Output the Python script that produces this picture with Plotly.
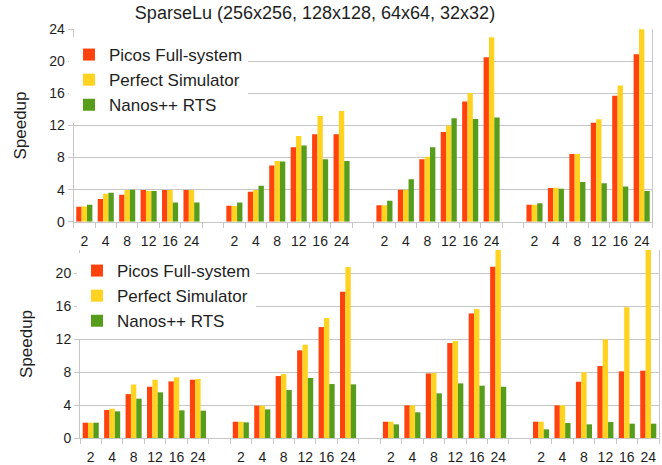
import plotly.graph_objects as go

W, H = 662, 465
threads = ["2", "4", "8", "12", "16", "24"]
n_groups = 4
series_names = ["Picos Full-system", "Perfect Simulator", "Nanos++ RTS"]
title_text = "SparseLu (256x256, 128x128, 64x64, 32x32)"

# top chart values (4 groups x 6 thread counts)
top_picos = [1.87, 2.83, 3.37, 3.95, 3.95, 3.95,
             2.0, 3.75, 7.0, 9.28, 10.9, 10.9,
             2.04, 4.0, 7.8, 11.2, 15.0, 20.5,
             2.1, 4.2, 8.45, 12.35, 15.7, 20.9]
top_perfect = [1.9, 3.5, 3.95, 3.87, 3.95, 3.95,
               1.95, 3.95, 7.57, 10.7, 13.2, 13.8,
               2.04, 4.0, 8.1, 12.0, 16.05, 23.0,
               2.1, 4.25, 8.45, 12.77, 17.0, 24.3]
top_nanos = [2.1, 3.6, 4.0, 3.83, 2.4, 2.4,
             2.4, 4.5, 7.5, 9.5, 7.8, 7.57,
             2.6, 5.3, 9.3, 12.9, 12.8, 13.0,
             2.3, 4.1, 4.95, 4.8, 4.4, 3.83]

# bottom chart values
bot_picos = [1.86, 3.4, 5.34, 6.23, 6.88, 7.08,
             1.98, 3.93, 7.53, 10.65, 13.48, 17.77,
             1.98, 3.97, 7.85, 11.54, 15.14, 20.8,
             1.98, 3.97, 6.84, 8.74, 8.1, 8.18]
bot_perfect = [1.86, 3.56, 6.5, 7.08, 7.37, 7.17,
               1.98, 3.93, 7.77, 11.34, 14.57, 20.77,
               1.98, 3.97, 7.9, 11.78, 15.67, 22.9,
               1.98, 3.97, 7.98, 11.98, 15.9, 22.9]
bot_nanos = [1.86, 3.24, 4.78, 5.55, 3.36, 3.32,
             1.9, 3.48, 5.83, 7.29, 6.56, 6.52,
             1.66, 3.12, 5.43, 6.64, 6.36, 6.23,
             1.05, 1.82, 1.66, 1.94, 1.74, 1.74]

colors = ["#ff420e", "#ffd320", "#579d1c"]
FONT = "Liberation Sans, Arial, sans-serif"
GRID = "#c6c6c6"
TXT = "#1e1e1e"

slot = len(threads) + 1
xpos = [g * slot + i for g in range(n_groups) for i in range(len(threads))]
ticktext = [t for g in range(n_groups) for t in threads]
xmax = n_groups * slot - 1 - 0.5

fig = go.Figure()
for vals, name, col in zip([top_picos, top_perfect, top_nanos], series_names, colors):
    fig.add_trace(go.Bar(x=xpos, y=vals, name=name, marker_color=col, marker_line_width=0,
                         xaxis="x", yaxis="y", legend="legend", hoverinfo="skip"))
for vals, name, col in zip([bot_picos, bot_perfect, bot_nanos], series_names, colors):
    fig.add_trace(go.Bar(x=xpos, y=vals, name=name, marker_color=col, marker_line_width=0,
                         xaxis="x2", yaxis="y2", legend="legend2", hoverinfo="skip"))

def xaxis_cfg(domain, anchor):
    return dict(domain=domain, anchor=anchor, range=[-0.5, xmax], automargin=False,
                tickmode="array", tickvals=xpos, ticktext=ticktext, ticks="",
                showgrid=False, zeroline=False, showline=True, linecolor=GRID, linewidth=1,
                tickfont=dict(family=FONT, size=14, color=TXT), ticklabelstandoff=6,
                minor=dict(tick0=-0.5, dtick=1, ticks="outside", ticklen=5,
                           tickcolor=GRID, showgrid=False))

def yaxis_cfg(domain, anchor, rng):
    return dict(domain=domain, anchor=anchor, range=rng, tickmode="linear", tick0=0, dtick=4,
                automargin=False,
                showgrid=True, gridcolor=GRID, gridwidth=1, zeroline=False,
                showline=True, linecolor=GRID, linewidth=1, mirror=True,
                ticks="outside", ticklen=5, tickcolor=GRID,
                tickfont=dict(family=FONT, size=14, color=TXT),
                title=dict(text="Speedup", font=dict(family=FONT, size=17, color=TXT), standoff=18))

fig.update_layout(
    width=W, height=H,
    margin=dict(l=0, r=0, t=0, b=0, pad=0),
    paper_bgcolor="white", plot_bgcolor="white",
    barmode="group", bargap=0.25, bargroupgap=0,
    title=dict(text=title_text, x=315 / W, xanchor="center", xref="paper",
               y=1 - 13 / H, yanchor="middle", yref="container", automargin=False,
               font=dict(family=FONT, size=18, color=TXT)),
    xaxis=xaxis_cfg([73.6 / W, 652.4 / W], "y"),
    yaxis=yaxis_cfg([(H - 221.7) / H, (H - 29.3) / H], "x", [0, 24]),
    xaxis2=xaxis_cfg([80 / W, 659 / W], "y2"),
    yaxis2=yaxis_cfg([(H - 438) / H, (H - 250) / H], "x2", [0, 22.85]),
    legend=dict(x=69 / W, y=1 - 37 / H, xanchor="left", yanchor="top", bgcolor="white",
                font=dict(family=FONT, size=17, color=TXT), tracegroupgap=0),
    legend2=dict(x=77 / W, y=1 - 253 / H, xanchor="left", yanchor="top", bgcolor="white",
                 font=dict(family=FONT, size=17, color=TXT), tracegroupgap=0),
)

fig.write_html("out.html", config={"displayModeBar": False},
               post_script="document.body.style.margin='0';document.body.style.overflow='hidden';"
                           "document.documentElement.style.overflow='hidden';")
